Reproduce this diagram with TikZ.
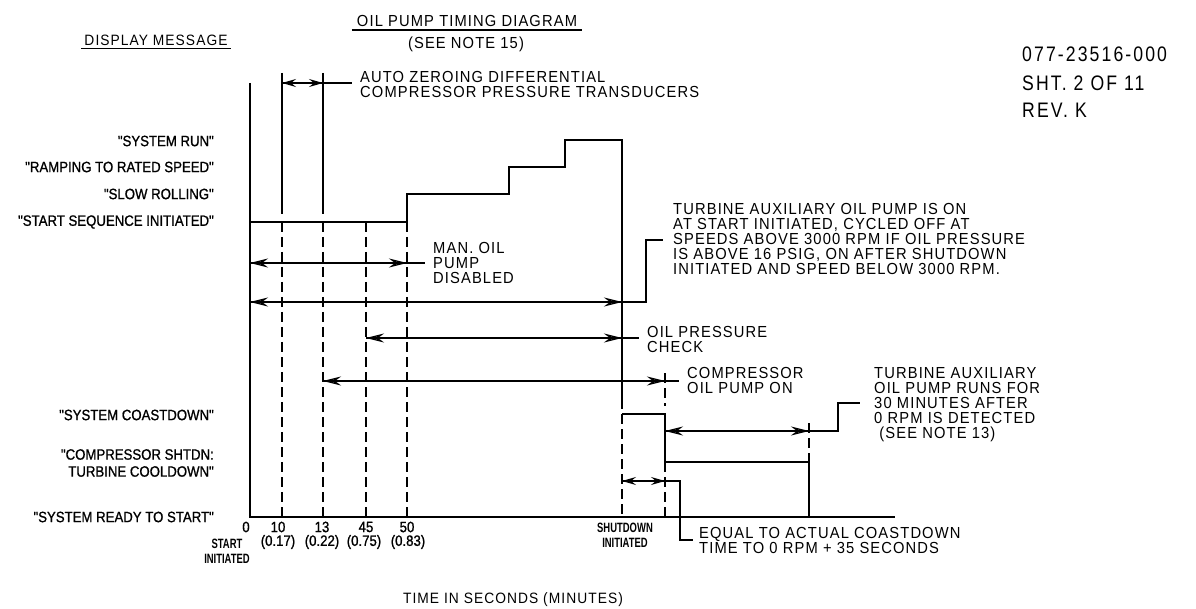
\documentclass[tikz,border=0pt]{standalone}
\usepackage{fontspec}
\setmainfont{Liberation Sans}
\newfontfamily\af[LetterSpace=7,FakeStretch=0.92]{Liberation Sans}
\newfontfamily\lf[FakeStretch=0.88,FakeBold=1]{Liberation Sans}
\newfontfamily\cf[FakeStretch=0.7]{Liberation Sans}
\newfontfamily\df[LetterSpace=10,FakeStretch=0.84]{Liberation Sans}
\usetikzlibrary{arrows.meta}
\begin{document}
\begin{tikzpicture}[x=1pt,y=-1pt,
  >={Stealth[open,length=18pt,width=9pt,inset=6pt]},
  ln/.style={line width=1.3pt},
  dsh/.style={line width=1.3pt,dash pattern=on 10pt off 5pt},
  dim/.style={line width=1.3pt,<->,postaction={draw,arrows=-}},
  heavy/.style={line width=2.8pt},
  lbl/.style={anchor=east,inner sep=0pt,font=\lf\fontsize{15}{17}\selectfont},
  note/.style={anchor=north west,inner sep=0pt,align=left,font=\af\fontsize{16}{15}\selectfont},
  ttlf/.style={inner sep=0pt,font=\af\fontsize{16}{16}\selectfont},
  tick/.style={anchor=center,inner sep=0pt,font=\lf\fontsize{15}{15}\selectfont},
  cnd/.style={anchor=center,inner sep=0pt,align=center,font=\cf\bfseries\fontsize{13.5}{15}\selectfont},
  doc/.style={anchor=west,inner sep=0pt,font=\df\fontsize{21}{21}\selectfont},
]
\useasboundingbox (0,0) rectangle (1196,609);

% ---- headings
\node[ttlf] (ttl) at (467,21) {OIL PUMP TIMING DIAGRAM};
\draw[ln] ([xshift=-5pt,yshift=-3pt]ttl.south west) -- ([xshift=5pt,yshift=-3pt]ttl.south east);
\node[ttlf] (see) at (466,44) {(SEE NOTE 15)};
\node[inner sep=0pt,font=\af\fontsize{15}{15}\selectfont] (dm) at (156,40) {DISPLAY MESSAGE};
\draw[ln] ([xshift=-3pt,yshift=-3pt]dm.south west) -- ([xshift=3pt,yshift=-3pt]dm.south east);
\node[doc] (d1) at (1022,54) {077-23516-000};
\node[doc] (d2) at (1022,83) {SHT. 2 OF 11};
\node[doc] (d3) at (1022,110) {REV. K};

% ---- display messages
\node[lbl] (m1) at (214,141) {"SYSTEM RUN"};
\node[lbl] (m2) at (214,167) {"RAMPING TO RATED SPEED"};
\node[lbl] (m3) at (214,194) {"SLOW ROLLING"};
\node[lbl] (m4) at (214,222) {"START SEQUENCE INITIATED"};
\node[lbl] (m5) at (214,415) {"SYSTEM COASTDOWN"};
\node[lbl,align=right] (m6) at (214,463) {"COMPRESSOR SHTDN:\\TURBINE COOLDOWN"};
\node[lbl] (m7) at (214,517) {"SYSTEM READY TO START"};

% ---- axes
\coordinate (top) at (250,83);
\coordinate (org) at (250,517);
\coordinate (xend) at (895,517);
\draw[ln] (top) -- (org) -- (xend);

% ---- time lines
\foreach \x in {282,323}{
  \draw[ln] (\x,73) -- (\x,214);
}
\foreach \x in {282,323,366,407}{
  \draw[dsh] (\x,222) -- (\x,517);
}
\draw[dsh] (622,414) -- (622,517);
\draw[dsh] (665,462) -- (665,517);
\draw[dsh] (665,373) -- (665,406);
\draw[dsh] (809,423) -- (809,462);

% ---- speed profile
\draw[ln] (250,222) -- (407,222) -- (407,194) -- (509,194) -- (509,167) -- (565,167) -- (565,140) -- (622,140) -- (622,409);
\draw[ln] (622,414) -- (665,414) -- (665,462) -- (809,462) -- (809,517);

% ---- heavy shaft segments
\draw[heavy] (366,263) -- (407,263);
\draw[heavy] (573,302) -- (622,302);
\draw[heavy] (580,338) -- (622,338);
\draw[heavy] (622,381) -- (665,381);
\draw[heavy] (767,431) -- (809,431);

% ---- dimension arrows and leaders
\coordinate (az1) at (282,83); \coordinate (az2) at (323,83); \coordinate (azl) at (352,83);
\draw[dim,>={Stealth[open,length=14pt,width=8pt,inset=5pt]}] (az1) -- (az2);
\draw[ln] (az2) -- (azl);

\coordinate (mo1) at (250,263); \coordinate (mo2) at (407,263); \coordinate (mol) at (425,263);
\draw[dim] (mo1) -- (mo2);
\draw[ln] (mo2) -- (mol);

\coordinate (ta1) at (250,302); \coordinate (ta2) at (622,302);
\coordinate (tal1) at (646,302); \coordinate (tal2) at (646,240); \coordinate (tal3) at (663,240);
\draw[dim] (ta1) -- (ta2);
\draw[ln] (ta2) -- (tal1) -- (tal2) -- (tal3);

\coordinate (op1) at (366,338); \coordinate (op2) at (622,338); \coordinate (opl) at (639,338);
\draw[dim] (op1) -- (op2);
\draw[ln] (op2) -- (opl);

\coordinate (cp1) at (323,381); \coordinate (cp2) at (665,381); \coordinate (cpl) at (679,381);
\draw[dim] (cp1) -- (cp2);
\draw[ln] (cp2) -- (cpl);

\coordinate (tm1) at (665,431); \coordinate (tm2) at (809,431);
\coordinate (tml1) at (838,431); \coordinate (tml2) at (838,403); \coordinate (tml3) at (860,403);
\draw[dim] (tm1) -- (tm2);
\draw[ln] (tm2) -- (tml1) -- (tml2) -- (tml3);

\coordinate (eq1) at (622,481); \coordinate (eq2) at (665,481);
\coordinate (eql1) at (680,481); \coordinate (eql2) at (680,540); \coordinate (eql3) at (693,540);
\draw[dim,>={Stealth[open,length=14pt,width=8pt,inset=5pt]}] (eq1) -- (eq2);
\draw[ln] (eq2) -- (eql1) -- (eql2) -- (eql3);

% ---- notes
\node[note] (n1) at (360,71) {AUTO ZEROING DIFFERENTIAL\\COMPRESSOR PRESSURE TRANSDUCERS};
\node[note] (n2) at (433,242) {MAN. OIL\\PUMP\\DISABLED};
\node[note] (n3) at (673,203) {TURBINE AUXILIARY OIL PUMP IS ON\\AT START INITIATED, CYCLED OFF AT\\SPEEDS ABOVE 3000 RPM IF OIL PRESSURE\\IS ABOVE 16 PSIG, ON AFTER SHUTDOWN\\INITIATED AND SPEED BELOW 3000 RPM.};
\node[note] (n4) at (647,326) {OIL PRESSURE\\CHECK};
\node[note] (n5) at (687,367) {COMPRESSOR\\OIL PUMP ON};
\node[note] (n6) at (874,367) {TURBINE AUXILIARY\\OIL PUMP RUNS FOR\\30 MINUTES AFTER\\0 RPM IS DETECTED\\\ (SEE NOTE 13)};
\node[note] (n7) at (699,527) {EQUAL TO ACTUAL COASTDOWN\\TIME TO 0 RPM + 35 SECONDS};

% ---- axis labels
\node[tick] (x0) at (246,527) {0};
\node[tick] (x1) at (278,527) {10};
\node[tick] (x2) at (322,527) {13};
\node[tick] (x3) at (366,527) {45};
\node[tick] (x4) at (407,527) {50};
\node[tick] (y1) at (278,542) {(0.17)};
\node[tick] (y2) at (322,542) {(0.22)};
\node[tick] (y3) at (364,542) {(0.75)};
\node[tick] (y4) at (408,542) {(0.83)};
\node[cnd] (si) at (227,551) {START\\INITIATED};
\node[cnd] (sd) at (625,535) {SHUTDOWN\\INITIATED};
\node[inner sep=0pt,font=\af\fontsize{15}{15}\selectfont] (xl) at (513,600) {TIME IN SECONDS (MINUTES)};
\end{tikzpicture}
\end{document}
